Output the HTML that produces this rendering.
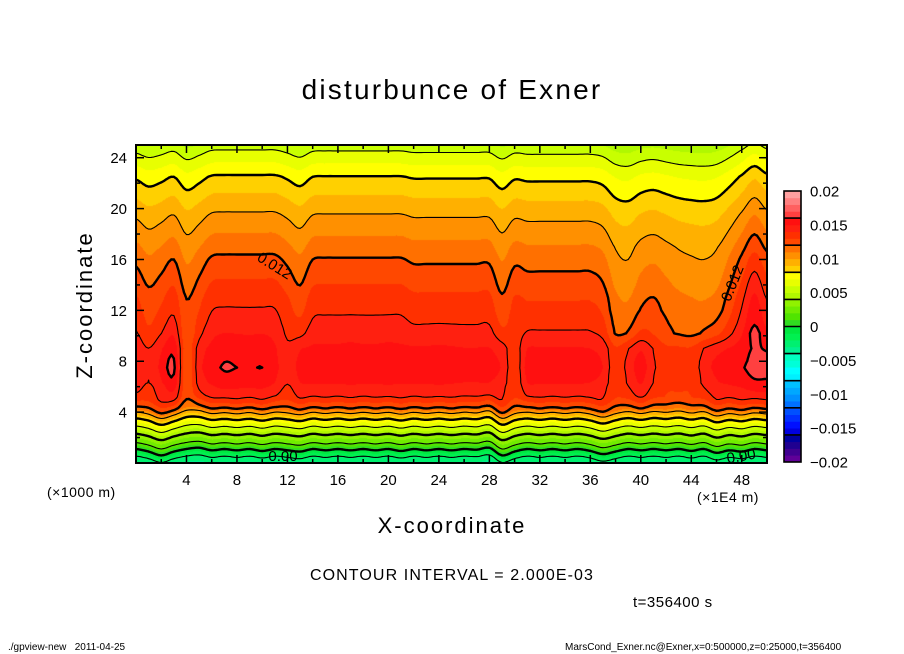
<!DOCTYPE html>
<html><head><meta charset="utf-8">
<style>
html,body{margin:0;padding:0;background:#fff;}
#root{position:relative;width:904px;height:654px;overflow:hidden;background:#fff;font-family:"Liberation Sans",sans-serif;color:#000;}
.t{position:absolute;white-space:nowrap;}
canvas{position:absolute;left:136px;top:145px;}
svg{position:absolute;left:0;top:0;}
</style></head>
<body>
<div id="root">
<div class="t" style="left:0;width:904px;text-align:center;top:74px;font-size:28px;letter-spacing:2.2px;">disturbunce of Exner</div>
<canvas id="cv" width="631" height="318"></canvas>
<svg id="sv" width="904" height="654"></svg>
<div class="t" style="left:8px;top:292px;width:154px;text-align:center;font-size:22px;letter-spacing:2px;transform:rotate(-90deg);transform-origin:77px 13px;">Z-coordinate</div>
<div class="t" style="left:0;width:904px;text-align:center;top:513px;font-size:22px;letter-spacing:2px;">X-coordinate</div>
<div class="t" style="left:47px;top:484px;font-size:14px;letter-spacing:0.5px;">(×1000 m)</div>
<div class="t" style="left:697px;top:489px;font-size:14px;letter-spacing:0.5px;">(×1E4 m)</div>
<div class="t" style="left:0;width:904px;text-align:center;top:567px;font-size:16px;letter-spacing:1.1px;">CONTOUR INTERVAL = 2.000E-03</div>
<div class="t" style="left:633px;top:594px;font-size:15px;letter-spacing:0.5px;">t=356400 s</div>
<div class="t" style="left:8px;top:642px;font-size:10px;">./gpview-new&nbsp;&nbsp;&nbsp;2011-04-25</div>
<div class="t" style="left:565px;top:642px;font-size:10px;">MarsCond_Exner.nc@Exner,x=0:500000,z=0:25000,t=356400</div>
</div>
<script>
// ---- data ----
const xCats = [0,1,2,3,4,5,6,7,8,9,10,11,12,13,14,15,16,17,18,19,20,21,22,23,24,25,26,27,28,29,30,31,32,33,34,35,36,37,38,39,40,41,42,43,44,45,46,47,48,49,50];
const profZ = [0,0.55,1.1,1.6,2.3,2.9,3.5,4.0,4.4,5.3,6.3,7.5,9,11,13,16,19.5,22.5,24.5,25];
const profV = [-0.0032,-0.002,0,0.002,0.004,0.006,0.008,0.010,0.012,0.014,0.0149,0.0153,0.0150,0.0141,0.0134,0.012,0.010,0.008,0.006,0.0054];
// upper-level dips (units 1e-3)
const dipD = [-0.3,-1.05,-0.6,0,-1.4,-0.7,0.2,0.3,0.3,0.3,0.3,0.3,-0.3,-1.0,0,0.1,0.1,0.1,0.1,0.1,0.1,0.1,-0.2,-0.2,-0.2,-0.2,-0.2,-0.2,-0.2,-1.3,-0.3,-0.5,-0.5,-0.5,-0.5,-0.5,-0.5,-0.9,-2.2,-2.5,-1.7,-1.4,-1.8,-2.2,-2.4,-2.5,-2.2,-1.1,0.3,1.8,0.5];
const hZ = [0,8,9,10.2,12,14,16,17,20,23,25];
const hV = [0,0,0.15,0.8,1,0.95,0.8,0.68,0.52,0.47,0.45];
// core anomaly near z=7.5
const coreC = [-0.0003,-0.0011,0,0.0009,-0.003,-0.0006,0.0003,0.0008,0.0007,0.0006,0.0007,0.0001,-0.001,0.0001,0.0002,0.0002,0.0002,0.0003,0.0002,0.0002,0.0003,0.0002,0.0002,0.0002,0.0003,0.0002,0.0001,0.0001,0.0001,-0.0004,-0.002,0.0001,0.0002,0.0002,0.0002,0.0002,0.0001,-0.0003,-0.002,-0.0009,0.0002,-0.0011,-0.002,-0.002,-0.002,-0.0008,0,0.0003,0.0006,0.0011,0.0011];
// low-level wiggle (z shift)
const lowW = [0,0.2,0.5,0.2,0,-0.1,0.1,0,0.1,0,0.15,0,0.1,0.2,0,0.1,0,0.1,0,0.1,0,0.15,0,0.1,0,0.1,0,0.05,-0.1,0.5,0.2,0,0.1,0,0.1,0,0.15,0.4,0.2,0,0.1,0,0.1,0,0.15,0,0.3,0.1,0.2,0,0.1];
const bandColors = ["#600098","#400090","#200090","#0000a0","#0000e0","#0010ff","#0030ff","#0050ff","#0070ff","#0090ff","#00a8ff","#00c0ff","#00f0ff","#00ffff","#00ffd8","#00ffc0","#00f090","#00f070","#00f050","#00e840","#30dc20","#50e400","#70ec00","#90f200","#b0f800","#c8ff00","#e8ff00","#ffff00","#ffd000","#ffb000","#ff9000","#ff7000","#ff4800","#ff3000","#ff2010","#ff1010","#ff4040","#ff6060","#ff8080","#ffa0a0"];
const contourLevels = [-0.002,0,0.002,0.004,0.006,0.008,0.010,0.012,0.014,0.016];
const xTicks = [4,8,12,16,20,24,28,32,36,40,44,48];
const zTicks = [4,8,12,16,20,24];
const cbTicks = [0.02,0.015,0.01,0.005,0,-0.005,-0.01,-0.015,-0.02];
const cbTickLabels = ["0.02","0.015","0.01","0.005","0","-0.005","-0.01","-0.015","-0.02"];

// ---- axes ----
const PX0=136,PX1=767,PY0=145,PY1=463;
const X=v=>PX0+v/50*(PX1-PX0);
const Z=v=>PY1-v/25*(PY1-PY0);
const CBX=784,CBW=17,CBY0=191,CBY1=462;
const CB=v=>CBY1-(v+0.02)/0.04*(CBY1-CBY0);

function lin(xa,ya,x){
  if(x<=xa[0])return ya[0];
  const n=xa.length;
  if(x>=xa[n-1])return ya[n-1];
  let i=1;while(xa[i]<x)i++;
  const t=(x-xa[i-1])/(xa[i]-xa[i-1]);
  return ya[i-1]+t*(ya[i]-ya[i-1]);
}
// Catmull-Rom along uniformly spaced categories
function cub(xa,ya,x){
  const n=xa.length;
  if(x<=xa[0])return ya[0];
  if(x>=xa[n-1])return ya[n-1];
  const h=xa[1]-xa[0];
  const i=Math.min(n-2,Math.floor((x-xa[0])/h));
  const t=(x-xa[i])/h;
  const p0=ya[Math.max(0,i-1)],p1=ya[i],p2=ya[i+1],p3=ya[Math.min(n-1,i+2)];
  return 0.5*((2*p1)+(-p0+p2)*t+(2*p0-5*p1+4*p2-p3)*t*t+(-p0+3*p1-3*p2+p3)*t*t*t);
}
function field(x,z){
  const lw=cub(xCats,lowW,x);
  const wl=Math.max(0,Math.min(1,6-z));
  let v=lin(profZ,profV,z+lw*wl);
  v+=cub(xCats,coreC,x)*Math.exp(-Math.pow((z-7.5)/2.8,2));
  v+=cub(xCats,dipD,x)*1e-3*lin(hZ,hV,z);
  return v;
}
function colorOf(v){
  let b=Math.floor((v+0.02)/0.001+1e-9);
  b=Math.max(0,Math.min(39,b));
  return bandColors[b];
}
function hex(c){return [parseInt(c.slice(1,3),16),parseInt(c.slice(3,5),16),parseInt(c.slice(5,7),16)];}

// ---- fill ----
const cv=document.getElementById('cv');
const ctx=cv.getContext('2d');
const W=cv.width,H=cv.height;
const img=ctx.createImageData(W,H);
for(let j=0;j<H;j++){
  const z=25-(j+0.5)/H*25;
  for(let i=0;i<W;i++){
    const x=(i+0.5)/W*50;
    const c=hex(colorOf(field(x,z)));
    const k=(j*W+i)*4;
    img.data[k]=c[0];img.data[k+1]=c[1];img.data[k+2]=c[2];img.data[k+3]=255;
  }
}
ctx.putImageData(img,0,0);

// ---- svg overlay ----
const NS='http://www.w3.org/2000/svg';
const sv=document.getElementById('sv');
function mk(tag,attrs,parent){const e=document.createElementNS(NS,tag);for(const k in attrs)e.setAttribute(k,attrs[k]);(parent||sv).appendChild(e);return e;}

// contours via marching squares
const NX=251,NZ=251;
const gx=i=>i/(NX-1)*50, gz=j=>j/(NZ-1)*25;
const G=[];
for(let j=0;j<NZ;j++){const row=[];for(let i=0;i<NX;i++)row.push(field(gx(i),gz(j)));G.push(row);}
const clip=mk('clipPath',{id:'pclip'});
mk('rect',{x:PX0,y:PY0,width:PX1-PX0,height:PY1-PY0},clip);
const cg=mk('g',{'clip-path':'url(#pclip)'});


contourLevels.forEach(L=>{
  let d='';
  for(let j=0;j<NZ-1;j++)for(let i=0;i<NX-1;i++){
    const a=G[j][i],b=G[j][i+1],c=G[j+1][i+1],e=G[j+1][i];
    const pts=[];
    const edge=(v1,v2,x1,z1,x2,z2)=>{if((v1<L)!==(v2<L)){const t=(L-v1)/(v2-v1);pts.push([X(x1+t*(x2-x1)),Z(z1+t*(z2-z1))]);}};
    const x0=gx(i),x1=gx(i+1),z0=gz(j),z1=gz(j+1);
    edge(a,b,x0,z0,x1,z0);edge(b,c,x1,z0,x1,z1);edge(c,e,x1,z1,x0,z1);edge(e,a,x0,z1,x0,z0);
    for(let k=0;k+1<pts.length;k+=2)d+='M'+pts[k][0].toFixed(1)+' '+pts[k][1].toFixed(1)+'L'+pts[k+1][0].toFixed(1)+' '+pts[k+1][1].toFixed(1);
  }
  const thick=Math.abs(Math.round(L*1000))%4===0;
  const p=mk('path',{d:d,fill:'none',stroke:'#000','stroke-width':thick?2.4:1.1,'stroke-linecap':'round'},cg);
  
  
});

// contour labels
function clabel(txt,x,y,rot,name){
  const t=mk('text',{x:x,y:y,'font-size':15,'font-family':'Liberation Sans, sans-serif','text-anchor':'middle',transform:'rotate('+rot+' '+x+' '+y+')'});
  t.textContent=txt;
  
  
}
clabel('0.012',272,270,32,'contour-label-left');
clabel('0.012',737,285,-68,'contour-label-right');
clabel('0.00',283,461,0,'contour-label-bottom-left');
clabel('0.00',742,461,-10,'contour-label-bottom-right');

// frame
const fr=mk('rect',{x:PX0,y:PY0,width:PX1-PX0,height:PY1-PY0,fill:'none',stroke:'#000','stroke-width':2});



// ticks
const tg=mk('g',{stroke:'#000','stroke-width':1.5});


for(let v=2;v<50;v+=2){
  const len=(v%4===0)?8:4;
  mk('line',{x1:X(v),y1:PY1,x2:X(v),y2:PY1-len},tg);
  mk('line',{x1:X(v),y1:PY0,x2:X(v),y2:PY0+len},tg);
}
for(let v=2;v<25;v+=2){
  const len=(v%4===0)?8:4;
  mk('line',{x1:PX0,y1:Z(v),x2:PX0+len,y2:Z(v)},tg);
  mk('line',{x1:PX1,y1:Z(v),x2:PX1-len,y2:Z(v)},tg);
}
xTicks.forEach(v=>{
  const t=mk('text',{x:X(v),y:485,'font-size':15,'text-anchor':'middle','font-family':'Liberation Sans, sans-serif'});
  t.textContent=String(v);
  
  
});
zTicks.forEach(v=>{
  const t=mk('text',{x:127,y:Z(v)+5.5,'font-size':15,'text-anchor':'end','font-family':'Liberation Sans, sans-serif'});
  t.textContent=String(v);
  
  
});

// colorbar
const cbg=mk('g',{});


bandColors.forEach((c,k)=>{
  const lo=-0.02+k*0.001;
  const r=mk('rect',{x:CBX,y:CB(lo+0.001),width:CBW,height:CB(lo)-CB(lo+0.001)+0.4,fill:c},cbg);
  
  
});
for(let v=-0.016;v<0.0195;v+=0.004){
  mk('line',{x1:CBX,x2:CBX+CBW,y1:CB(v),y2:CB(v),stroke:'#000','stroke-width':1.6},cbg);
}
mk('rect',{x:CBX,y:CBY0,width:CBW,height:CBY1-CBY0,fill:'none',stroke:'#000','stroke-width':1.6},cbg);
cbTicks.forEach((v,k)=>{
  const t=mk('text',{x:810,y:CB(v)+5.5,'font-size':15,'font-family':'Liberation Sans, sans-serif'},cbg);
  t.textContent=cbTickLabels[k].replace('-','\u2212');
  
  
});
</script>
</body></html>
